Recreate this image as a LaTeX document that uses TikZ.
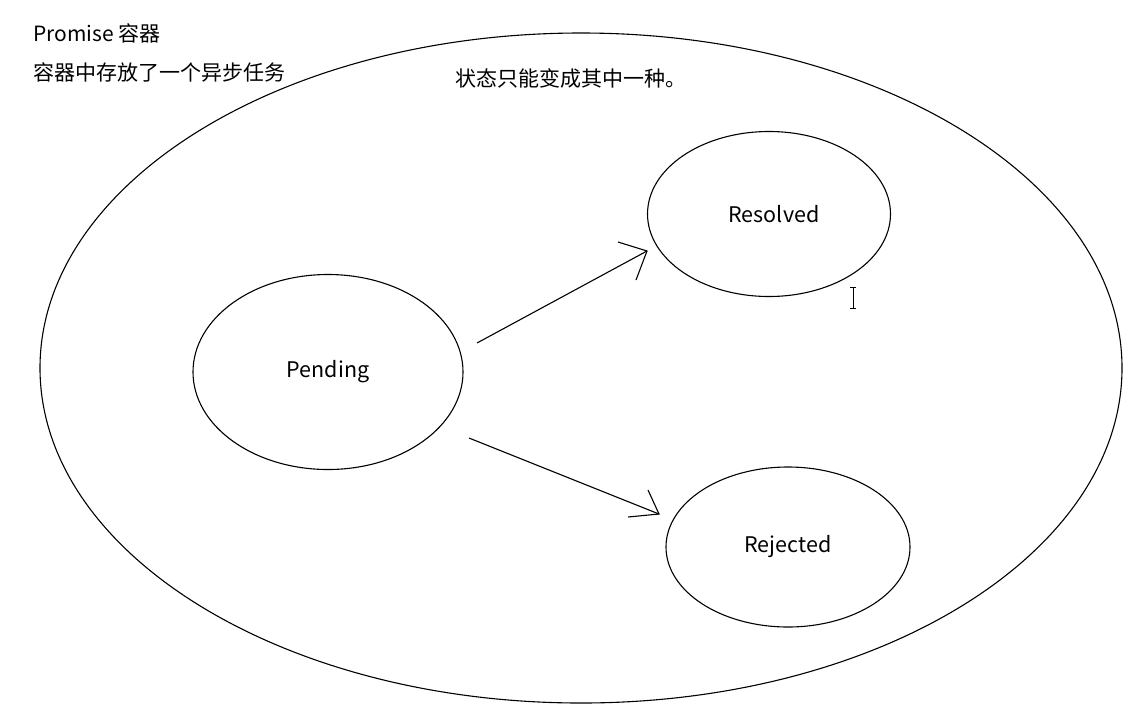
\documentclass[tikz,border=0pt]{standalone}
\usepackage{fontspec}
\setmainfont{Noto Sans CJK SC}
\usetikzlibrary{shapes.geometric,calc}
\begin{document}
\begin{tikzpicture}[x=1pt,y=-1pt,
  state/.style={draw, ellipse, line width=1.1pt, font=\fontsize{21.5}{24}\selectfont},
  conn/.style={line width=1.1pt},
  lbl/.style={anchor=west, inner sep=0pt, font=\fontsize{21}{25}\selectfont}]
\useasboundingbox (0,0) rectangle (1142,705);
\draw[line width=1.1pt] (581,368) ellipse [x radius=541, y radius=335];
\node[state, minimum width=270pt, minimum height=195pt] (pending) at (328,372) {Pending};
\node[state, minimum width=243pt, minimum height=165pt] (resolved) at (769,214) {\hspace*{10pt}Resolved};
\node[state, minimum width=244pt, minimum height=160pt] (rejected) at (788,547) {Rejected};
\coordinate (a1s) at (477,343);
\coordinate (a1t) at (647,251);
\coordinate (a1b) at (618,242);
\coordinate (a1c) at (636,280);
\coordinate (a2s) at (469,438);
\coordinate (a2t) at (659,514);
\coordinate (a2b) at (648,490);
\coordinate (a2c) at (628,517);
\draw[conn] (a1s) -- (a1t);
\draw[conn] (a1b) -- (a1t) -- (a1c);
\draw[conn] (a2s) -- (a2t);
\draw[conn] (a2b) -- (a2t) -- (a2c);
\node[lbl] (t1) at (33,33) {Promise 容器};
\node[lbl] (t2) at (33,72) {容器中存放了一个异步任务};
\node[lbl] (t3) at (455,78) {状态只能变成其中一种。};
% text cursor
\coordinate (c1) at (853,287);
\coordinate (c2) at (853,308);
\draw[line width=1pt] (c1) -- (c2);
\draw[line width=1pt] ($(c1)+(-3,0)$) -- ($(c1)+(3,0)$);
\draw[line width=1pt] ($(c2)+(-3,0)$) -- ($(c2)+(3,0)$);
\end{tikzpicture}
\end{document}
